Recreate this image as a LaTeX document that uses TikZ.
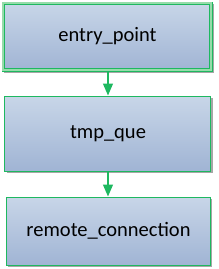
\documentclass[tikz,border=0pt]{standalone}
\usepackage{fontspec}
\setmainfont{Carlito}
\usetikzlibrary{arrows.meta,shadows,positioning}
\definecolor{bgreen}{RGB}{30,184,96}
\definecolor{lgreen}{RGB}{150,220,170}
\definecolor{ftop}{RGB}{200,214,232}
\definecolor{fbot}{RGB}{160,180,212}
\tikzset{
  boxnode/.style={draw=bgreen, line width=1pt, top color=ftop, bottom color=fbot,
    minimum height=#1, inner sep=0pt, font=\fontsize{20.5}{24}\selectfont,
    drop shadow={shadow xshift=2pt, shadow yshift=-2pt, fill=black!35, opacity=1}},
  innerframe/.style={draw=bgreen, line width=1pt},
  midframe/.style={draw=lgreen, line width=2pt},
  conn/.style={draw=bgreen, line width=1.2pt, -{Triangle[length=12pt,width=10pt]}, fill=bgreen}
}
\begin{document}
\begin{tikzpicture}[x=1pt,y=-1pt]
\useasboundingbox (0,0) rectangle (218,269);
\node[boxnode=69pt, minimum width=210pt] (a) at (107.5,36.5) {entry\_point};
\draw[midframe] ([xshift=1.5pt,yshift=-1.5pt]a.north west) rectangle ([xshift=-1.5pt,yshift=1.5pt]a.south east);
\draw[innerframe] ([xshift=3pt,yshift=-3pt]a.north west) rectangle ([xshift=-3pt,yshift=3pt]a.south east);
\node[boxnode=75pt, minimum width=206pt] (b) at (108,133.5) {tmp\_que};
\node[boxnode=68pt, minimum width=204pt] (c) at (108.5,231) {remote\_connection};
\draw[conn] (a.south -| 108,0) -- (b.north -| 108,0);
\draw[conn] (b.south -| 108,0) -- (c.north -| 108,0);
\end{tikzpicture}
\end{document}
